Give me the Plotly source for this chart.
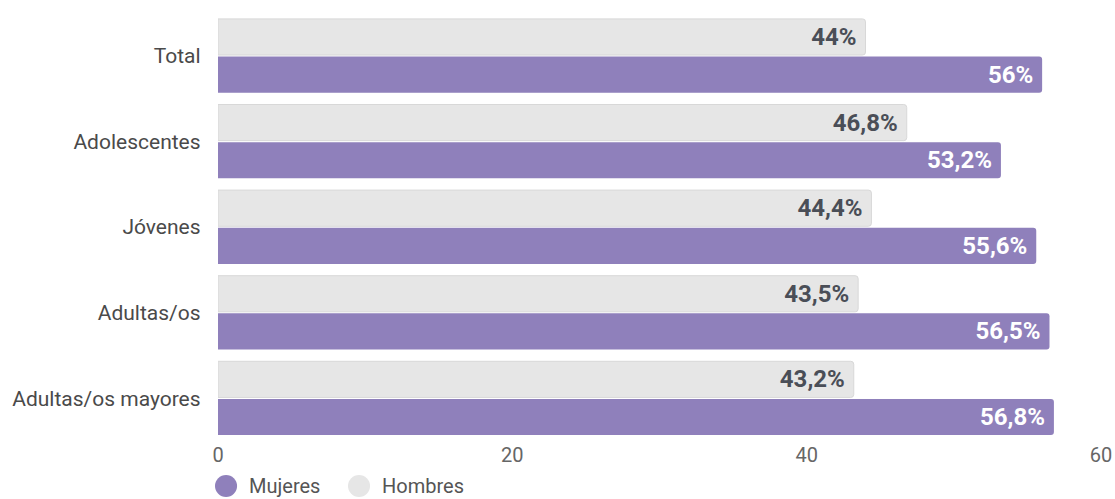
import plotly.graph_objects as go

# ── Data ──────────────────────────────────────────────────────────────────────
categories = ["Total", "Adolescentes", "Jóvenes", "Adultas/os", "Adultas/os mayores"]
mujeres = [56.0, 53.2, 55.6, 56.5, 56.8]
hombres = [44.0, 46.8, 44.4, 43.5, 43.2]
tick_vals = [0, 20, 40, 60]
legend_names = ["Mujeres", "Hombres"]

PURPLE = "#8f80bb"
GREY = "#e6e6e6"
DARK = "#4a4e57"
PAD = "\u00a0"


def pct(v):
    s = f"{v:.1f}".replace(".", ",")
    if s.endswith(",0"):
        s = s[:-2]
    return s + "%" + PAD


fig = go.Figure()

fig.add_trace(go.Bar(
    y=categories, x=hombres, orientation="h", name="Hombres",
    marker=dict(color=GREY, line=dict(color="#d8d8d8", width=1)),
    text=[pct(v) for v in hombres], textposition="inside",
    insidetextanchor="end",
    textfont=dict(family="Roboto", size=24, color=DARK, weight="bold"),
    showlegend=False,
))
fig.add_trace(go.Bar(
    y=categories, x=mujeres, orientation="h", name="Mujeres",
    marker=dict(color=PURPLE, line=dict(width=0)),
    text=[pct(v) for v in mujeres], textposition="inside",
    insidetextanchor="end",
    textfont=dict(family="Roboto", size=24, color="white", weight="bold"),
    showlegend=False,
))

# ── Legend drawn by hand (round swatches) ────────────────────────────────────
# plot area is 883 x 428 px; positions below are in paper units
legend_cols = [PURPLE, GREY]
legend_x = [-0.0034, 0.1472]
for name, col, x0 in zip(legend_names, legend_cols, legend_x):
    fig.add_shape(type="circle", xref="paper", yref="paper",
                  x0=x0, x1=x0 + 0.025, y0=-0.1309, y1=-0.0794,
                  fillcolor=col, line=dict(width=0))
    fig.add_annotation(x=x0 + 0.036, y=-0.106, xref="paper", yref="paper",
                       text=name, showarrow=False, xanchor="left", yanchor="middle",
                       font=dict(family="Roboto", size=20, color="#555"))

fig.update_layout(
    barmode="group",
    bargap=0.12,
    bargroupgap=0.04,
    barcornerradius=3,
    width=1115, height=499,
    margin=dict(l=218, r=14, t=13, b=58),
    paper_bgcolor="white",
    plot_bgcolor="white",
    showlegend=False,
    font=dict(family="Roboto", color="#555"),
    xaxis=dict(range=[0, 60], tickvals=tick_vals, showgrid=False, zeroline=False,
               automargin=False, ticks="", ticklen=0,
               tickfont=dict(size=20, color="#666")),
    yaxis=dict(autorange="reversed", showgrid=False, automargin=False,
               ticklabelstandoff=6,
               tickfont=dict(size=21, color="#4a4a4a"), ticksuffix="  "),
)

# drop the page's default body margin so the figure sits at the window corner
fig.write_html("out.html",
               config=dict(displayModeBar=False),
               post_script="document.body.style.margin='0';"
                           "document.body.style.overflow='hidden';")
